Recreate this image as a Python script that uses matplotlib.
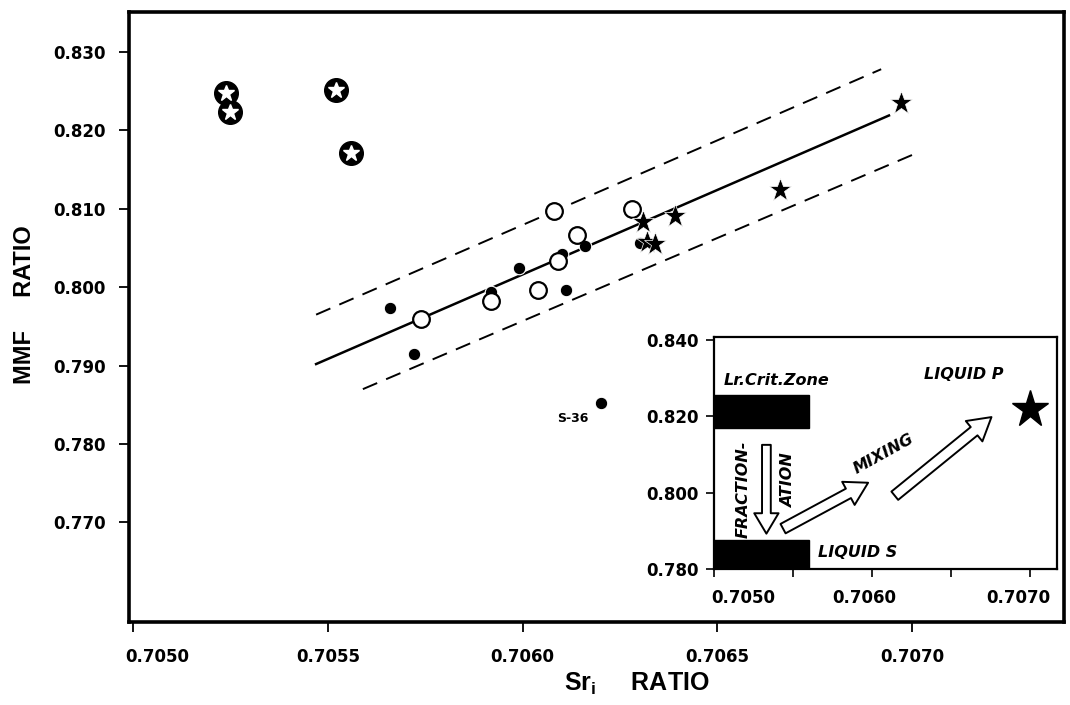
import numpy as np
import matplotlib
matplotlib.use("Agg")
import matplotlib.pyplot as plt
from matplotlib.patches import Rectangle, FancyArrowPatch
from matplotlib.transforms import ScaledTranslation

plt.rcParams["font.family"] = ["DejaVu Sans"]
plt.rcParams["font.weight"] = "bold"
plt.rcParams["mathtext.fontset"] = "custom"
plt.rcParams["mathtext.rm"] = "Liberation Sans:bold"
plt.rcParams["mathtext.bf"] = "Liberation Sans:bold"

# --- datos ---
# circulos negros con estrella blanca (zona critica inferior)
crit_x = [0.70524, 0.70525, 0.70552, 0.70556]
crit_y = [0.8248, 0.8224, 0.8252, 0.8171]
# circulos llenos
filled_x = [0.70566, 0.70572, 0.70592, 0.70599, 0.70610, 0.70611, 0.70616, 0.70630, 0.70620]
filled_y = [0.7974, 0.7915, 0.7994, 0.8025, 0.8042, 0.7996, 0.8053, 0.8056, 0.7852]
# circulos abiertos
open_x = [0.70574, 0.70592, 0.70604, 0.70609, 0.70608, 0.70614, 0.70628]
open_y = [0.7960, 0.7982, 0.7996, 0.8034, 0.8097, 0.8067, 0.8100]
# estrellas
star_x = [0.70631, 0.70639, 0.70632, 0.70634, 0.70666, 0.70697]
star_y = [0.8083, 0.8091, 0.8058, 0.8055, 0.8124, 0.8235]
# muestra S-36
s36_x, s36_y = 0.70620, 0.7852

# recta de mezcla y envolventes
fit_x = [0.70547, 0.70694]
fit_y = [0.7902, 0.8219]
upper_x = [0.70547, 0.70692]
upper_y = [0.7965, 0.8278]
lower_x = [0.70559, 0.70702]
lower_y = [0.7870, 0.8173]

# ticks
main_xticks = [0.7050, 0.7055, 0.7060, 0.7065, 0.7070]
main_yticks = [0.770, 0.780, 0.790, 0.800, 0.810, 0.820, 0.830]

# --- recuadro (modelo) ---
zone_x = [0.7050, 0.7056]
zone_y = [0.8169, 0.8255]
liqs_x = [0.7050, 0.7056]
liqs_y = [0.7790, 0.7877]
liqp_x, liqp_y = 0.70700, 0.8219
frac_arrow = [(0.70533, 0.8133), (0.70533, 0.7886)]
mix_arrow1 = [(0.70542, 0.7903), (0.70599, 0.8030)]
mix_arrow2 = [(0.70613, 0.7988), (0.70677, 0.8203)]
in_xticks = [0.7050, 0.7055, 0.7060, 0.7065, 0.7070]
in_xlabels = ["0.7050", "", "0.7060", "", "0.7070"]
in_yticks = [0.780, 0.800, 0.820, 0.840]

fig = plt.figure(figsize=(10.7, 7.05), dpi=100)
ax = fig.add_axes([0.1206, 0.1177, 0.8741, 0.8653])

# lineas
ax.plot(fit_x, fit_y, color="black", lw=1.8, zorder=1)
ax.plot(upper_x, upper_y, color="black", lw=1.4, ls=(0, (8, 5)), zorder=1)
ax.plot(lower_x, lower_y, color="black", lw=1.4, ls=(0, (8, 5)), zorder=1)

# puntos
ax.plot(crit_x, crit_y, "o", ms=17, color="black", zorder=3)
ax.plot(crit_x, crit_y, "*", ms=12, color="white", zorder=4)
ax.plot(filled_x, filled_y, "o", ms=9, mfc="black", mec="white", mew=0.8, zorder=3)
ax.plot(open_x, open_y, "o", ms=12, mfc="white", mec="black", mew=1.6, zorder=3)
ax.plot(star_x, star_y, "*", ms=17, color="black", mec="white", mew=0.5, zorder=4)
ax.text(s36_x - 0.00007, s36_y - 0.0020, "S-36", fontsize=9, ha="center", va="center")

ax.set_xlim(0.70499, 0.70739)
ax.set_ylim(0.7573, 0.8351)
ax.set_xticks(main_xticks)
ax.set_xticklabels([f"{v:.4f}" for v in main_xticks])
ax.set_yticks(main_yticks)
ax.set_yticklabels([f"{v:.3f}" for v in main_yticks])
ax.tick_params(direction="out", length=7, width=1.3, labelsize=12, pad=10)
ax.tick_params(axis="x", pad=12)
for sp in ax.spines.values():
    sp.set_linewidth(2.6)
lab = ax.get_xticklabels()[0]
lab.set_transform(lab.get_transform() + ScaledTranslation(0.24, 0, fig.dpi_scale_trans))

ax.set_ylabel("MMF     RATIO", fontsize=17, fontweight="bold", family="Liberation Sans")
ax.yaxis.set_label_coords(-0.1, 0.52)
fig.text(0.595, 0.03, r"$\mathbf{Sr_i}$     RATIO", fontsize=18, ha="center", va="center",
         family="Liberation Sans")

# --- recuadro ---
axi = fig.add_axes([0.6676, 0.1925, 0.3200, 0.3300])
axi.set_xlim(0.7050, 0.70717)
axi.set_ylim(0.7805, 0.8409)
axi.add_patch(Rectangle((zone_x[0], zone_y[0]), zone_x[1] - zone_x[0], zone_y[1] - zone_y[0],
                        color="black", zorder=2))
axi.add_patch(Rectangle((liqs_x[0], liqs_y[0]), liqs_x[1] - liqs_x[0], liqs_y[1] - liqs_y[0],
                        color="black", zorder=2))
axi.plot([liqp_x], [liqp_y], "*", ms=28, color="black", zorder=3)

for (p0, p1), sty in [(frac_arrow, "simple,tail_width=0.45,head_width=1.25,head_length=1.05"),
                      (mix_arrow1, "simple,tail_width=0.55,head_width=1.35,head_length=1.15"),
                      (mix_arrow2, "simple,tail_width=0.55,head_width=1.35,head_length=1.15")]:
    arr = FancyArrowPatch(p0, p1, arrowstyle=sty, mutation_scale=14,
                          fc="white", ec="black", lw=1.4, zorder=3)
    axi.add_patch(arr)

axi.text(0.70506, 0.8293, "Lr.Crit.Zone", fontsize=11.5, fontstyle="italic", va="center")
axi.text(0.70633, 0.8310, "LIQUID P", fontsize=11.5, fontstyle="italic", va="center")
axi.text(0.70566, 0.7844, "LIQUID S", fontsize=11.5, fontstyle="italic", va="center")
axi.text(0.70518, 0.8009, "FRACTION-", fontsize=11.5, fontstyle="italic", rotation=90,
         ha="center", va="center")
axi.text(0.70547, 0.8033, "ATION", fontsize=11.5, fontstyle="italic", rotation=90,
         ha="center", va="center")
axi.text(0.70607, 0.8102, "MIXING", fontsize=11.5, fontstyle="italic", rotation=29,
         ha="center", va="center", rotation_mode="anchor")

axi.set_xticks(in_xticks)
axi.set_xticklabels(in_xlabels)
axi.set_yticks(in_yticks)
axi.set_yticklabels([f"{v:.3f}" for v in in_yticks])
axi.tick_params(direction="out", length=6, width=1.2, labelsize=12, pad=5)
axi.tick_params(axis="x", pad=8)
for sp in axi.spines.values():
    sp.set_linewidth(1.6)
shifts = [0.29, 0, -0.08, 0, -0.12]
for lab, dx in zip(axi.get_xticklabels(), shifts):
    lab.set_transform(lab.get_transform() + ScaledTranslation(dx, 0, fig.dpi_scale_trans))

fig.savefig("out.png", dpi=100)
